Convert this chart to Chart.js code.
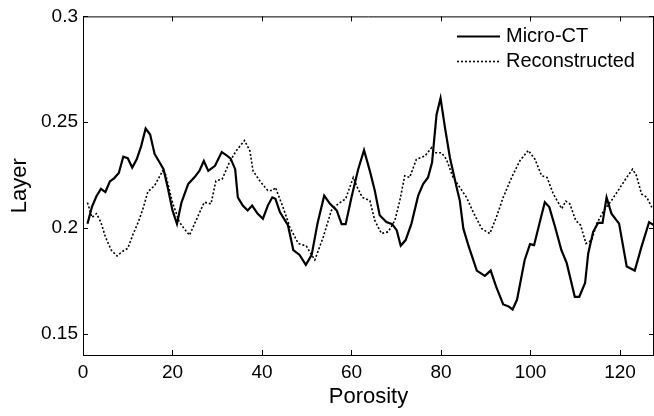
<!DOCTYPE html>
<html>
<head>
<meta charset="utf-8">
<script src="https://cdn.jsdelivr.net/npm/chart.js@4.4.1/dist/chart.umd.min.js"></script>
<style>
  html, body { margin: 0; padding: 0; background: #fff; }
  #wrap { width: 654px; height: 416px; }
</style>
</head>
<body>
<div id="wrap"><canvas id="c" width="654" height="416"></canvas></div>
<script>
// ---- data ----
const microX = [1,2,3,4,5,6,7,8,9,10,11,12,13,14,15,16,18,19,20,21,22,23.5,25,26,27,28,29.5,31,32,33,34,34.6,35.7,36.8,37.8,39,40.2,41.3,42.3,43,44,45.8,47,48.4,49.8,51.1,52.4,53.9,55.2,56.7,57.8,58.7,60,61.5,62.8,64.1,65.2,66.3,67.8,69.1,70.1,71,72.1,73.4,74.9,76,77.1,78,79,79.9,80.9,82,83.5,84.2,85,86.1,88,89.8,91.1,92.3,93.9,95,96,97,98.7,99.9,100.8,102,103.2,104.2,105.5,106.9,108.1,109.9,110.9,112.2,112.9,114,115.1,116.1,117,118.1,119.8,121.5,123.3,124.8,126.5,127.6];
const microY = [0.202,0.210,0.215,0.2185,0.217,0.222,0.2236,0.226,0.2337,0.233,0.2286,0.2325,0.2387,0.247,0.2442,0.235,0.2278,0.2185,0.2083,0.202,0.212,0.2208,0.2242,0.227,0.2317,0.227,0.2294,0.2359,0.2345,0.2328,0.2278,0.2145,0.2106,0.2083,0.2106,0.2068,0.2044,0.2106,0.2145,0.2138,0.2075,0.2013,0.1896,0.1873,0.1826,0.1873,0.2021,0.2153,0.2114,0.2083,0.2018,0.2018,0.2145,0.2278,0.2368,0.227,0.2177,0.206,0.2028,0.2018,0.199,0.1916,0.1943,0.2021,0.2153,0.2208,0.2239,0.2309,0.2535,0.2613,0.2473,0.2332,0.2192,0.213,0.1997,0.1919,0.1799,0.1774,0.1799,0.1724,0.1639,0.1631,0.1615,0.1662,0.1849,0.1924,0.1919,0.2021,0.2122,0.2099,0.2005,0.1896,0.1834,0.1675,0.1675,0.174,0.188,0.1982,0.2024,0.2024,0.2145,0.2068,0.2021,0.1818,0.1799,0.1911,0.2028,0.2013];

const reconX = [1,2,3,4,5,6.3,7.6,8.7,10,11.1,12.5,13.5,14.5,16,17.8,18.5,20,21.5,22.5,23.8,25.6,27.1,28.6,29.7,31.1,32.7,34.2,36.1,37.3,38,39.5,41.3,42.4,43,44.7,46.2,48.1,49.9,51.8,53.7,55.5,57,58.7,60.4,61.3,62.4,64.1,65.2,66.7,68.2,69.7,70.8,71.9,73,74.5,76.4,77.9,78.6,80.1,81.2,82.7,84.2,85.7,87.2,89.1,90.9,92.4,93.9,95.8,97.6,99.5,101,102.5,103.7,105.1,107,107.9,108.8,110.1,111.2,112.4,113.7,114.8,116.4,118.1,119.8,121.5,122.8,123.7,124.8,126,127.1];
const reconY = [0.212,0.205,0.2068,0.2028,0.1958,0.1896,0.1868,0.1888,0.1904,0.1966,0.2036,0.2098,0.2172,0.22,0.227,0.225,0.212,0.203,0.2,0.1966,0.2052,0.2122,0.2114,0.2223,0.2231,0.2309,0.2364,0.2414,0.2364,0.227,0.2223,0.2177,0.2177,0.2192,0.2098,0.2005,0.1927,0.1915,0.1849,0.1958,0.2083,0.2114,0.2138,0.2239,0.2192,0.2145,0.213,0.2036,0.1974,0.1982,0.2036,0.213,0.2247,0.2239,0.2325,0.234,0.238,0.2356,0.2356,0.2325,0.2239,0.2192,0.2145,0.2075,0.1997,0.1974,0.2052,0.2145,0.2239,0.2317,0.2367,0.2325,0.2247,0.2239,0.2161,0.2091,0.2127,0.2114,0.2036,0.2013,0.1927,0.1943,0.2021,0.2083,0.213,0.2184,0.2239,0.2278,0.2247,0.2161,0.2145,0.2098];

const seriesLabels = ['Micro-CT', 'Reconstructed'];
const xTicks = [0, 20, 40, 60, 80, 100, 120];
const yTicks = [0.15, 0.2, 0.25, 0.3];
const xTitle = 'Porosity';
const yTitle = 'Layer';

const FONT = '"Liberation Sans", Arial, sans-serif';

function pts(xs, ys) { return xs.map((x, i) => ({ x: x, y: ys[i] })); }

// inward tick marks + box (MATLAB style) and in-axes legend
const boxPlugin = {
  id: 'boxPlugin',
  afterDraw(chart) {
    const ctx = chart.ctx, a = chart.chartArea;
    const xs = chart.scales.x, ys = chart.scales.y;
    ctx.save();
    ctx.strokeStyle = '#000';
    ctx.lineWidth = 1;
    ctx.setLineDash([]);
    ctx.beginPath();
    ctx.moveTo(a.left, a.top + 0.5); ctx.lineTo(a.right, a.top + 0.5);
    ctx.moveTo(a.right - 0.5, a.top); ctx.lineTo(a.right - 0.5, a.bottom);
    const L = 5;
    xTicks.forEach(v => {
      const px = Math.round(xs.getPixelForValue(v)) + 0.5;
      ctx.moveTo(px, a.bottom); ctx.lineTo(px, a.bottom - L);
      ctx.moveTo(px, a.top); ctx.lineTo(px, a.top + L);
    });
    yTicks.forEach(v => {
      const py = Math.round(ys.getPixelForValue(v)) + 0.5;
      ctx.moveTo(a.left, py); ctx.lineTo(a.left + L, py);
      ctx.moveTo(a.right, py); ctx.lineTo(a.right - L, py);
    });
    ctx.stroke();

    // legend inside the axes, top right
    const lx0 = 457, lx1 = 500, tx = 506;
    const rows = [36, 61];
    ctx.font = '20px ' + FONT;
    ctx.fillStyle = '#000';
    ctx.textBaseline = 'middle';
    ctx.textAlign = 'left';
    chart.data.datasets.forEach((ds, i) => {
      const y = rows[i] + 0.5;
      ctx.lineWidth = ds.borderWidth;
      ctx.setLineDash(ds.borderDash || []);
      ctx.beginPath();
      ctx.moveTo(lx0, y); ctx.lineTo(lx1, y);
      ctx.stroke();
      ctx.setLineDash([]);
      ctx.fillText(ds.label, tx, rows[i]);
    });
    ctx.restore();
  }
};

new Chart(document.getElementById('c'), {
  type: 'line',
  data: {
    datasets: [
      { label: seriesLabels[0], data: pts(microX, microY), borderColor: '#000', borderWidth: 2.2, pointRadius: 0, tension: 0, fill: false },
      { label: seriesLabels[1], data: pts(reconX, reconY), borderColor: '#000', borderWidth: 1.6, borderDash: [2, 2], pointRadius: 0, tension: 0, fill: false }
    ]
  },
  options: {
    responsive: false,
    animation: false,
    devicePixelRatio: 1,
    layout: { padding: { top: 14, right: 0, left: 0, bottom: 0 } },
    plugins: { legend: { display: false }, tooltip: { enabled: false } },
    scales: {
      x: {
        type: 'linear', min: 0, max: 127.6,
        afterBuildTicks: s => { s.ticks = xTicks.map(v => ({ value: v })); },
        afterFit: s => { s.height = 61; },
        grid: { display: false, drawTicks: false },
        border: { display: true, color: '#000', width: 1 },
        ticks: { color: '#000', font: { family: FONT, size: 19 }, padding: 6, maxRotation: 0, autoSkip: false,
                 callback: v => String(v) },
        title: { display: true, text: xTitle, color: '#000', font: { family: FONT, size: 22 }, padding: { top: 0, bottom: 6 } }
      },
      y: {
        type: 'linear', min: 0.14, max: 0.3,
        afterBuildTicks: s => { s.ticks = yTicks.map(v => ({ value: v })); },
        afterFit: s => { s.width = 83; },
        grid: { display: false, drawTicks: false },
        border: { display: true, color: '#000', width: 1 },
        ticks: { color: '#000', font: { family: FONT, size: 19 }, padding: 5, autoSkip: false,
                 callback: v => String(Math.round(v * 100) / 100) },
        title: { display: true, text: yTitle, color: '#000', font: { family: FONT, size: 22 }, padding: { top: 7, bottom: 0 } }
      }
    }
  },
  plugins: [boxPlugin]
});
</script>
</body>
</html>
